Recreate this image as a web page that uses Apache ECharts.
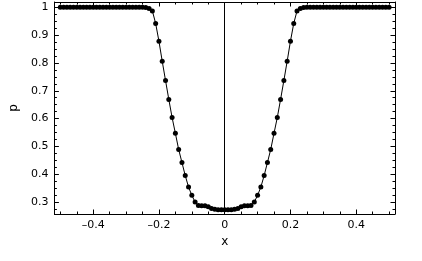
<!DOCTYPE html>
<html><head><meta charset="utf-8">
<script src="https://cdn.jsdelivr.net/npm/echarts@6/dist/echarts.min.js"></script>
<style>html,body{margin:0;padding:0;background:#fff}#c{width:422px;height:261px}</style>
</head><body><div id="c"></div>
<script>
const xValues = [
  -0.5,-0.49,-0.48,-0.47,-0.46,-0.45,-0.44,-0.43,-0.42,-0.41,
  -0.4,-0.39,-0.38,-0.37,-0.36,-0.35,-0.34,-0.33,-0.32,-0.31,
  -0.3,-0.29,-0.28,-0.27,-0.26,-0.25,-0.24,-0.23,-0.22,-0.21,
  -0.2,-0.19,-0.18,-0.17,-0.16,-0.15,-0.14,-0.13,-0.12,-0.11,
  -0.1,-0.09,-0.08,-0.07,-0.06,-0.05,-0.04,-0.03,-0.02,-0.01,
  0,
  0.01,0.02,0.03,0.04,0.05,0.06,0.07,0.08,0.09,0.1,
  0.11,0.12,0.13,0.14,0.15,0.16,0.17,0.18,0.19,0.2,
  0.21,0.22,0.23,0.24,0.25,0.26,0.27,0.28,0.29,0.3,
  0.31,0.32,0.33,0.34,0.35,0.36,0.37,0.38,0.39,0.4,
  0.41,0.42,0.43,0.44,0.45,0.46,0.47,0.48,0.49,0.5
];
const pValues = [
  1,1,1,1,1,1,1,1,1,1,
  1,1,1,1,1,1,1,1,1,1,
  1,1,1,1,1,1,0.999,0.996,0.987,0.942,
  0.878,0.806,0.737,0.669,0.604,0.547,0.489,0.442,0.395,0.354,
  0.324,0.300,0.288,0.287,0.287,0.283,0.277,0.274,0.272,0.272,
  0.272,
  0.272,0.272,0.274,0.277,0.283,0.287,0.287,0.288,0.300,0.324,
  0.354,0.395,0.442,0.489,0.547,0.604,0.669,0.737,0.806,0.878,
  0.942,0.987,0.996,0.999,1,1,1,1,1,1,
  1,1,1,1,1,1,1,1,1,1,
  1,1,1,1,1,1,1,1,1,1
];
const xMajorTicks = [-0.4,-0.2,0,0.2,0.4];
const xMinorTicks = [-0.5,-0.45,-0.4,-0.35,-0.3,-0.25,-0.2,-0.15,-0.1,-0.05,0,0.05,0.1,0.15,0.2,0.25,0.3,0.35,0.4,0.45,0.5];
const yMajorTicks = [0.3,0.4,0.5,0.6,0.7,0.8,0.9,1];
const yMinorTicks = [0.275,0.3,0.325,0.35,0.375,0.4,0.425,0.45,0.475,0.5,0.525,0.55,0.575,0.6,0.625,0.65,0.675,0.7,0.725,0.75,0.775,0.8,0.825,0.85,0.875,0.9,0.925,0.95,0.975,1];

const X_MIN = -0.518, X_MAX = 0.518, Y_MIN = 0.257, Y_MAX = 1.019;
const FONT = '"DejaVu Sans", sans-serif';
const black = '#000';

function axis(kind, pos, major, showLine, extra) {
  const ticks = major ? (kind === 'x' ? xMajorTicks : yMajorTicks) : (kind === 'x' ? xMinorTicks : yMinorTicks);
  return Object.assign({
    type: 'value',
    position: pos,
    min: kind === 'x' ? X_MIN : Y_MIN,
    max: kind === 'x' ? X_MAX : Y_MAX,
    axisLine: { show: showLine, onZero: false, lineStyle: { color: black, width: 1 } },
    axisTick: { show: true, inside: true, length: major ? 4.5 : 2.5, customValues: ticks, lineStyle: { color: black, width: 1 } },
    axisLabel: { show: false },
    splitLine: { show: false },
    minorTick: { show: false }
  }, extra || {});
}

const xLabel = {
  show: true, customValues: xMajorTicks, color: black, fontSize: 11, fontFamily: FONT, margin: 6,
  formatter: v => (v < 0 ? '\u2013' + String(-v) : String(v))
};
const yLabel = {
  show: true, customValues: yMajorTicks, color: black, fontSize: 11, fontFamily: FONT, margin: 6,
  formatter: v => String(v)
};

const chart = echarts.init(document.getElementById('c'), null, { renderer: 'canvas' });
chart.setOption({
  animation: false,
  backgroundColor: '#fff',
  grid: { left: 53, right: 27, top: 2, bottom: 47, containLabel: false },
  xAxis: [
    axis('x', 'bottom', true, true, { axisLabel: xLabel, name: 'x', nameLocation: 'middle', nameGap: 20,
      nameTextStyle: { color: black, fontSize: 12, fontFamily: FONT } }),
    axis('x', 'bottom', false, false),
    axis('x', 'top', true, true),
    axis('x', 'top', false, false)
  ],
  yAxis: [
    axis('y', 'left', true, true, { axisLabel: yLabel, name: 'p', nameLocation: 'middle', nameGap: 29, nameRotate: 90,
      nameTextStyle: { color: black, fontSize: 12, fontFamily: FONT } }),
    axis('y', 'left', false, false),
    axis('y', 'right', true, true),
    axis('y', 'right', false, false)
  ],
  series: [{
    type: 'line',
    xAxisIndex: 0, yAxisIndex: 0,
    data: xValues.map((x, i) => [x, pValues[i]]),
    symbol: 'circle', symbolSize: 5, showSymbol: true, showAllSymbol: true,
    itemStyle: { color: black },
    lineStyle: { color: black, width: 1 },
    markLine: {
      silent: true, symbol: 'none', label: { show: false },
      lineStyle: { color: black, width: 1, type: 'solid' },
      data: [{ xAxis: 0 }]
    }
  }]
});
</script>
</body></html>
